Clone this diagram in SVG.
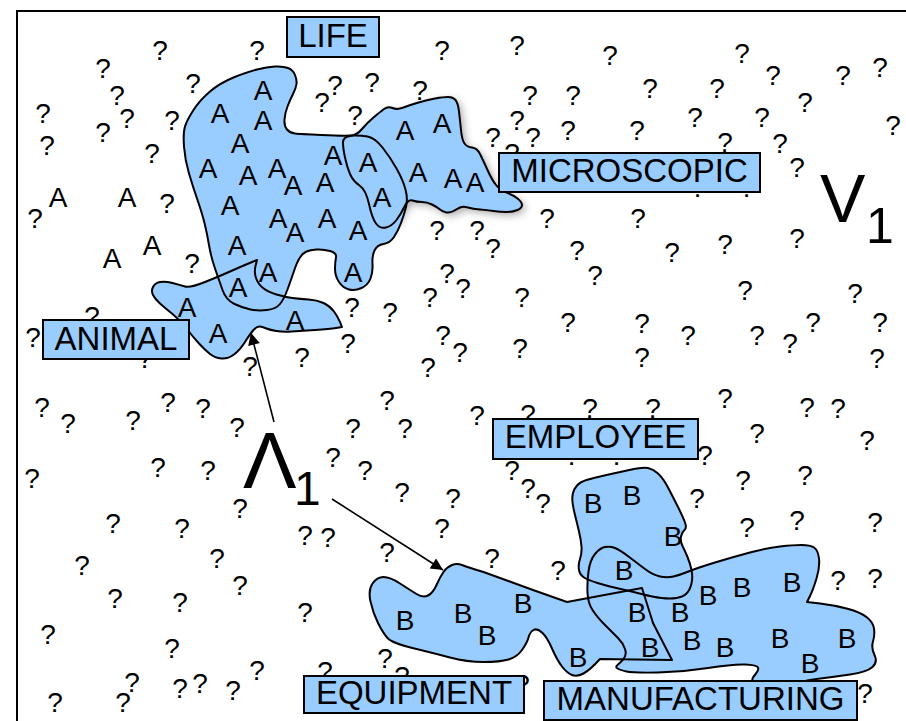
<svg xmlns="http://www.w3.org/2000/svg" xmlns:xlink="http://www.w3.org/1999/xlink" width="906" height="721" viewBox="0 0 906 721">
<style>
.q{font-family:"Liberation Sans",Arial,sans-serif;font-size:28px;fill:#000;text-anchor:middle}
.ab{font-family:"Liberation Sans",Arial,sans-serif;font-size:28px;fill:#000;text-anchor:middle}
.fill{fill:#99ccff;stroke:none}
.outline{fill:none;stroke:#000;stroke-width:2;stroke-linejoin:round}
.box{fill:#99ccff;stroke:#000;stroke-width:2}
.lbl{font-family:"Liberation Sans",Arial,sans-serif;font-size:33px;fill:#000;text-anchor:middle}
.big{font-family:"Liberation Sans",Arial,sans-serif;fill:#000}
.conn{stroke:#000;stroke-width:1.6;fill:none}
</style>
<defs>
<marker id="ah" viewBox="0 0 10 10" refX="10" refY="5" markerUnits="userSpaceOnUse" markerWidth="18" markerHeight="12" orient="auto"><path d="M0,0 L10,5 L0,10 Z" fill="#000"/></marker>
<filter id="shadow" x="-20%" y="-20%" width="140%" height="140%"><feGaussianBlur stdDeviation="4"/></filter>
<path id="p-life" d="M184,146.5 Q183,133 185,126.5 Q187,120 193.5,110 Q200,100 210,91.5 Q220,83 233.5,77.5 Q247,72 257,69.5 Q267,67 275,66.5 Q283,66 288,68 Q293,70 295,75 Q297,80 296.5,84 Q296,88 293,94 Q290,100 287.5,106.5 Q285,113 284.5,119.5 Q284,126 287,129.5 Q290,133 295,133.5 Q300,134 321.5,135 Q343,136 351.5,135.5 Q360,135 367.5,136.5 Q375,138 382.5,147.5 Q390,157 396.5,168.5 Q403,180 405.5,189.5 Q408,199 406,207 Q404,215 401,223 Q398,231 394,237 Q390,243 383.5,244 Q377,245 374.5,250.5 Q372,256 372.5,264 Q373,272 370.5,278.5 Q368,285 361.5,288 Q355,291 349,289.5 Q343,288 339,282 Q335,276 335,269 Q335,262 336,257.5 Q337,253 330,251 Q323,249 316.5,249.5 Q310,250 306.5,251.5 Q303,253 300,257.5 Q297,262 294,271 Q291,280 287.5,289.5 Q284,299 280,304 Q276,309 267,310 Q258,311 250.5,309.5 Q243,308 234.5,304 Q226,300 222.5,290 Q219,280 215,268.5 Q211,257 209,245 Q207,233 204.5,223 Q202,213 197.5,200 Q193,187 189,173.5 Q185,160 184,146.5 Z"/>
<path id="p-micro" d="M343,142.5 Q343,137 350,136 Q357,135 362,129 Q367,123 373.5,117.5 Q380,112 384,109 Q388,106 392.5,108 Q397,110 403.5,107.5 Q410,105 418.5,102.5 Q427,100 435,98.5 Q443,97 448,97 Q453,97 455.5,100 Q458,103 459,111.5 Q460,120 461,130 Q462,140 464.5,143.5 Q467,147 472,147.5 Q477,148 480,154 Q483,160 487.5,170 Q492,180 496,185 Q500,190 506.5,192.5 Q513,195 517.5,198.5 Q522,202 522,205 Q522,208 517.5,210 Q513,212 506.5,212 Q500,212 493.5,211 Q487,210 480,209.5 Q473,209 468,207.5 Q463,206 460,207.5 Q457,209 453.5,211 Q450,213 446.5,212.5 Q443,212 440,209.5 Q437,207 432,204.5 Q427,202 422,202 Q417,202 412.5,200.5 Q408,199 404.5,206.5 Q401,214 396.5,220 Q392,226 386,227.5 Q380,229 376,223.5 Q372,218 369,204 Q366,190 359.5,185.5 Q353,181 350,174 Q347,167 345,157.5 Q343,148 343,142.5 Z"/>
<path id="p-animal" d="M153,295 Q151,291 153,287 Q155,283 160,282 Q165,281 172.5,283 Q180,285 185,286.5 Q190,288 205,282 Q220,276 230,271.5 Q240,267 248.5,263.5 L257,260 L255.5,266 Q254,272 256,278 Q258,284 263,288 Q268,292 276.5,294.5 Q285,297 292.5,298 Q300,299 308.5,299.5 Q317,300 323.5,303 Q330,306 334,311.5 Q338,317 340,322 L342,327 L336,328 Q330,329 315,330 Q300,331 291.5,331.5 Q283,332 276.5,331 Q270,330 266.5,328.5 Q263,327 260,326.5 Q257,326 253.5,330 Q250,334 245,342 Q240,350 234,354.5 Q228,359 221.5,358.5 Q215,358 210,354 Q205,350 199,343.5 Q193,337 186.5,328.5 Q180,320 172.5,314 Q165,308 160,303.5 Q155,299 153,295 Z"/>
<path id="p-equip" d="M372.5,583.5 Q377,577 383.5,577 Q390,577 400,583.5 Q410,590 416.5,594 Q423,598 428,595.5 Q433,593 436.5,585 Q440,577 443.5,572 Q447,567 452,565 Q457,563 462,565 Q467,567 483.5,572 L533,590 L567,602 L642,588 L653,623 L672,660 L600,659 Q590,670 583.5,673.5 Q577,677 572,675 Q567,673 562,666.5 Q557,660 552,648.5 Q547,637 542,632.5 Q537,628 533.5,630 Q530,632 528.5,637.5 Q527,643 522,650 Q517,657 508.5,659.5 Q500,662 483.5,662 Q467,662 450,657.5 Q433,653 412.5,648 Q392,643 387.5,638 Q383,633 378,623 Q373,613 370.5,601.5 Q368,590 372.5,583.5 Z"/>
<path id="p-manu" d="M617.5,668.5 Q615,667 617.5,665 Q620,663 623.5,659 Q627,655 625,649 Q623,643 618,638 Q613,633 605,625 Q597,617 592.5,610 Q588,603 587.5,593 Q587,583 588.5,571.5 Q590,560 595,554 Q600,548 605,547 Q610,546 615,548 Q620,550 628.5,556.5 Q637,563 645,569 Q653,575 660,576.5 Q667,578 673.5,576.5 Q680,575 688.5,571.5 Q697,568 715,562.5 Q733,557 750,552.5 Q767,548 780,546.5 Q793,545 801.5,545 Q810,545 814,547.5 Q818,550 819,558.5 Q820,567 816.5,578.5 Q813,590 810,596 L807,602 L820,603.5 Q833,605 846.5,608.5 Q860,612 866.5,617 Q873,622 874,628.5 Q875,635 873,641.5 Q871,648 874.5,655 Q878,662 872.5,667 Q867,672 850,674.5 Q833,677 816.5,679 Q800,681 790,685.5 Q780,690 767.5,690 Q755,690 753.5,685 Q752,680 752.5,678.5 Q753,677 756,673.5 Q759,670 758,667.5 Q757,665 745,664.5 Q733,664 708,668 Q683,672 658,672.5 Q633,673 626.5,671.5 Q620,670 617.5,668.5 Z"/>
<path id="p-employee" d="M572.5,502 Q572,497 573,493 Q574,489 577,485.5 Q580,482 586.5,480 Q593,478 606.5,475 Q620,472 631.5,469.5 Q643,467 648,468 Q653,469 658,473.5 Q663,478 668,487.5 Q673,497 678,507 Q683,517 685,522.5 Q687,528 684.5,530 Q682,532 681,536.5 Q680,541 682.5,546 Q685,551 687.5,557 Q690,563 691.5,570 Q693,577 691.5,583.5 Q690,590 686.5,593.5 Q683,597 676.5,598 Q670,599 661.5,598 Q653,597 641.5,594 Q630,591 618.5,588.5 Q607,586 597.5,583 Q588,580 584,577.5 Q580,575 579,570 Q578,565 580,559 Q582,553 581.5,546.5 Q581,540 579,531.5 Q577,523 575,515 Q573,507 572.5,502 Z"/>
</defs>
<rect x="17" y="11" width="900" height="720" fill="#fff" stroke="#000" stroke-width="2"/>
<g id="question-marks">
<text class="q" x="160" y="60">?</text><text class="q" x="257" y="60">?</text><text class="q" x="103" y="78">?</text><text class="q" x="193" y="93">?</text><text class="q" x="117" y="105">?</text><text class="q" x="43" y="123">?</text><text class="q" x="127" y="128">?</text><text class="q" x="172" y="130">?</text><text class="q" x="103" y="142">?</text><text class="q" x="47" y="155">?</text><text class="q" x="152" y="163">?</text><text class="q" x="167" y="213">?</text><text class="q" x="35" y="228">?</text>
<text class="q" x="442" y="60">?</text><text class="q" x="517" y="55">?</text><text class="q" x="322" y="112">?</text><text class="q" x="335" y="95">?</text><text class="q" x="372" y="92">?</text><text class="q" x="420" y="100">?</text><text class="q" x="355" y="125">?</text><text class="q" x="530" y="105">?</text><text class="q" x="573" y="105">?</text><text class="q" x="517" y="130">?</text><text class="q" x="493" y="147">?</text><text class="q" x="533" y="147">?</text><text class="q" x="568" y="140">?</text><text class="q" x="512" y="163">?</text><text class="q" x="547" y="228">?</text><text class="q" x="437" y="240">?</text><text class="q" x="477" y="240">?</text><text class="q" x="493" y="258">?</text>
<text class="q" x="610" y="65">?</text><text class="q" x="742" y="63">?</text><text class="q" x="773" y="85">?</text><text class="q" x="843" y="85">?</text><text class="q" x="880" y="77">?</text><text class="q" x="650" y="98">?</text><text class="q" x="717" y="98">?</text><text class="q" x="805" y="112">?</text><text class="q" x="695" y="127">?</text><text class="q" x="762" y="127">?</text><text class="q" x="637" y="140">?</text><text class="q" x="725" y="152">?</text><text class="q" x="893" y="135">?</text><text class="q" x="780" y="153">?</text><text class="q" x="797" y="177">?</text><text class="q" x="698" y="197">?</text><text class="q" x="747" y="197">?</text><text class="q" x="638" y="228">?</text><text class="q" x="725" y="254">?</text><text class="q" x="797" y="248">?</text>
<text class="q" x="192" y="273">?</text><text class="q" x="92" y="326">?</text><text class="q" x="33" y="347">?</text><text class="q" x="145" y="368">?</text><text class="q" x="250" y="376">?</text><text class="q" x="42" y="417">?</text><text class="q" x="68" y="433">?</text><text class="q" x="133" y="430">?</text><text class="q" x="168" y="412">?</text><text class="q" x="203" y="418">?</text><text class="q" x="237" y="437">?</text><text class="q" x="158" y="477">?</text><text class="q" x="208" y="480">?</text><text class="q" x="32" y="488">?</text>
<text class="q" x="577" y="260">?</text><text class="q" x="595" y="285">?</text><text class="q" x="447" y="283">?</text><text class="q" x="463" y="298">?</text><text class="q" x="430" y="307">?</text><text class="q" x="522" y="307">?</text><text class="q" x="352" y="317">?</text><text class="q" x="390" y="322">?</text><text class="q" x="568" y="332">?</text><text class="q" x="348" y="353">?</text><text class="q" x="302" y="367">?</text><text class="q" x="443" y="345">?</text><text class="q" x="460" y="362">?</text><text class="q" x="428" y="377">?</text><text class="q" x="520" y="358">?</text><text class="q" x="387" y="410">?</text><text class="q" x="477" y="425">?</text><text class="q" x="528" y="424">?</text><text class="q" x="590" y="418">?</text><text class="q" x="353" y="438">?</text><text class="q" x="405" y="438">?</text><text class="q" x="333" y="467">?</text><text class="q" x="365" y="480">?</text><text class="q" x="512" y="480">?</text>
<text class="q" x="672" y="262">?</text><text class="q" x="745" y="300">?</text><text class="q" x="855" y="303">?</text><text class="q" x="642" y="333">?</text><text class="q" x="688" y="345">?</text><text class="q" x="813" y="332">?</text><text class="q" x="880" y="332">?</text><text class="q" x="757" y="345">?</text><text class="q" x="790" y="353">?</text><text class="q" x="642" y="367">?</text><text class="q" x="877" y="368">?</text><text class="q" x="725" y="408">?</text><text class="q" x="653" y="418">?</text><text class="q" x="807" y="417">?</text><text class="q" x="838" y="418">?</text><text class="q" x="757" y="443">?</text><text class="q" x="867" y="450">?</text><text class="q" x="705" y="465">?</text><text class="q" x="743" y="490">?</text><text class="q" x="805" y="485">?</text><text class="q" x="572" y="465">?</text><text class="q" x="617" y="465">?</text>
<text class="q" x="113" y="533">?</text><text class="q" x="182" y="538">?</text><text class="q" x="240" y="518">?</text><text class="q" x="82" y="575">?</text><text class="q" x="217" y="568">?</text><text class="q" x="115" y="608">?</text><text class="q" x="180" y="612">?</text><text class="q" x="240" y="595">?</text><text class="q" x="48" y="644">?</text><text class="q" x="172" y="658">?</text><text class="q" x="132" y="692">?</text><text class="q" x="123" y="712">?</text><text class="q" x="55" y="712">?</text><text class="q" x="180" y="698">?</text><text class="q" x="200" y="693">?</text><text class="q" x="233" y="700">?</text><text class="q" x="257" y="680">?</text>
<text class="q" x="402" y="502">?</text><text class="q" x="453" y="508">?</text><text class="q" x="528" y="498">?</text><text class="q" x="543" y="513">?</text><text class="q" x="305" y="545">?</text><text class="q" x="328" y="547">?</text><text class="q" x="442" y="538">?</text><text class="q" x="387" y="562">?</text><text class="q" x="492" y="568">?</text><text class="q" x="558" y="580">?</text><text class="q" x="305" y="622">?</text><text class="q" x="385" y="668">?</text><text class="q" x="325" y="681">?</text><text class="q" x="402" y="686">?</text><text class="q" x="522" y="694">?</text>
<text class="q" x="697" y="508">?</text><text class="q" x="747" y="537">?</text><text class="q" x="797" y="530">?</text><text class="q" x="875" y="532">?</text><text class="q" x="838" y="590">?</text><text class="q" x="875" y="588">?</text><text class="q" x="865" y="703">?</text>
</g>
<g id="region-fills">
<use xlink:href="#p-micro" href="#p-micro" fill="#000" opacity="0.35" filter="url(#shadow)" transform="translate(3,3)"/>
<use xlink:href="#p-life" href="#p-life" class="fill"/>
<use xlink:href="#p-micro" href="#p-micro" class="fill"/>
<use xlink:href="#p-animal" href="#p-animal" class="fill"/>
<use xlink:href="#p-equip" href="#p-equip" class="fill"/>
<use xlink:href="#p-manu" href="#p-manu" class="fill"/>
<use xlink:href="#p-employee" href="#p-employee" class="fill"/>
</g>
<g id="region-outlines">
<use xlink:href="#p-life" href="#p-life" class="outline"/>
<use xlink:href="#p-micro" href="#p-micro" class="outline"/>
<use xlink:href="#p-animal" href="#p-animal" class="outline"/>
<use xlink:href="#p-equip" href="#p-equip" class="outline"/>
<use xlink:href="#p-manu" href="#p-manu" class="outline"/>
<use xlink:href="#p-employee" href="#p-employee" class="outline"/>
</g>
<g id="a-letters">
<text class="ab" x="263" y="100">A</text><text class="ab" x="263" y="130">A</text><text class="ab" x="220" y="123">A</text><text class="ab" x="240" y="153">A</text><text class="ab" x="208" y="178">A</text><text class="ab" x="248" y="185">A</text><text class="ab" x="277" y="178">A</text><text class="ab" x="293" y="195">A</text><text class="ab" x="325" y="192">A</text><text class="ab" x="333" y="165">A</text><text class="ab" x="368" y="172">A</text><text class="ab" x="382" y="207">A</text><text class="ab" x="405" y="140">A</text><text class="ab" x="442" y="133">A</text><text class="ab" x="418" y="182">A</text><text class="ab" x="453" y="188">A</text><text class="ab" x="475" y="192">A</text><text class="ab" x="230" y="215">A</text><text class="ab" x="278" y="228">A</text><text class="ab" x="295" y="242">A</text><text class="ab" x="327" y="228">A</text><text class="ab" x="358" y="240">A</text><text class="ab" x="237" y="255">A</text><text class="ab" x="268" y="282">A</text><text class="ab" x="238" y="297">A</text><text class="ab" x="187" y="317">A</text><text class="ab" x="218" y="343">A</text><text class="ab" x="295" y="330">A</text><text class="ab" x="353" y="282">A</text>
<text class="ab" x="58" y="207">A</text><text class="ab" x="127" y="207">A</text><text class="ab" x="152" y="255">A</text><text class="ab" x="112" y="268">A</text>
</g>
<g id="b-letters">
<text class="ab" x="593" y="513">B</text><text class="ab" x="632" y="505">B</text><text class="ab" x="673" y="546">B</text><text class="ab" x="624" y="580">B</text><text class="ab" x="637" y="622">B</text><text class="ab" x="650" y="657">B</text><text class="ab" x="578" y="667">B</text><text class="ab" x="680" y="622">B</text><text class="ab" x="708" y="605">B</text><text class="ab" x="742" y="597">B</text><text class="ab" x="792" y="592">B</text><text class="ab" x="692" y="650">B</text><text class="ab" x="725" y="657">B</text><text class="ab" x="780" y="648">B</text><text class="ab" x="810" y="673">B</text><text class="ab" x="847" y="648">B</text><text class="ab" x="405" y="630">B</text><text class="ab" x="463" y="623">B</text><text class="ab" x="487" y="645">B</text><text class="ab" x="523" y="613">B</text>
</g>
<g id="connectors">
<line class="conn" x1="274" y1="422" x2="251" y2="333" marker-end="url(#ah)"/>
<line class="conn" x1="332" y1="499" x2="443" y2="570" marker-end="url(#ah)"/>
</g>
<g id="lambda1"><text class="big" x="243" y="488" font-size="80">Λ</text><text class="big" x="294" y="505" font-size="48">1</text></g>
<g id="v1"><text class="big" x="820" y="222" font-size="68">V</text><text class="big" x="866" y="243" font-size="50">1</text></g>
<g id="node-life"><rect class="box" x="287" y="17" width="92" height="40"/><text class="lbl" x="333" y="47">LIFE</text></g>
<g id="node-microscopic"><rect class="box" x="499" y="153" width="261" height="39"/><text class="lbl" x="629.5" y="182">MICROSCOPIC</text></g>
<g id="node-animal"><rect class="box" x="43" y="320" width="146" height="39"/><text class="lbl" x="116" y="350">ANIMAL</text></g>
<g id="node-employee"><rect class="box" x="493" y="419" width="205" height="40"/><text class="lbl" x="595.5" y="448">EMPLOYEE</text></g>
<g id="node-equipment"><rect class="box" x="304" y="676" width="220" height="37"/><text class="lbl" x="414" y="704">EQUIPMENT</text></g>
<g id="node-manufacturing"><rect class="box" x="544" y="681" width="313" height="39"/><text class="lbl" x="700.5" y="710">MANUFACTURING</text></g>
</svg>
